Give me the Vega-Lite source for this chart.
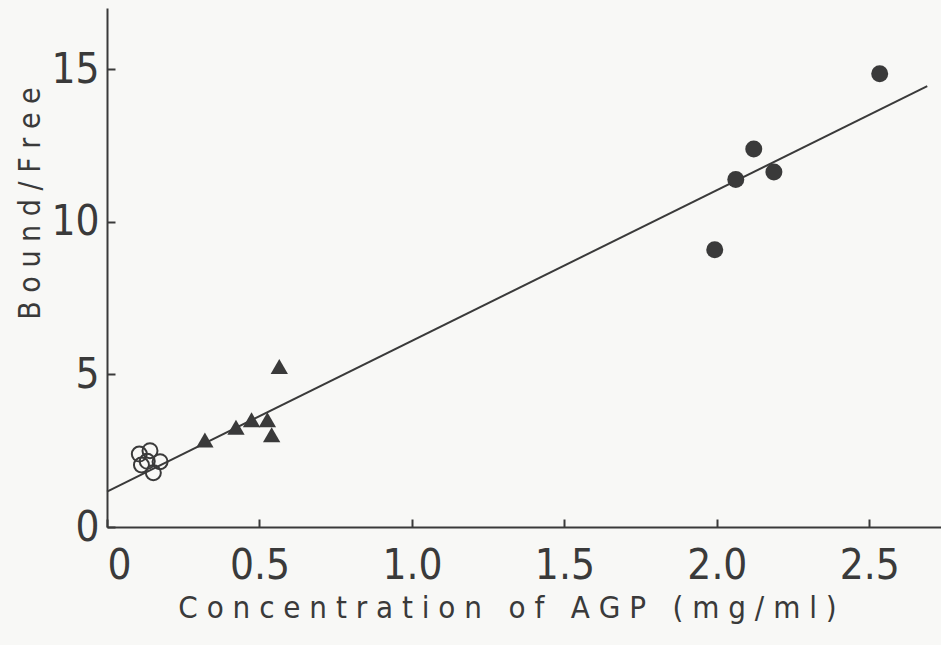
{
  "$schema": "https://vega.github.io/schema/vega-lite/v6.json",
  "autosize": "none",
  "padding": {"left": 107, "top": 8, "right": 0, "bottom": 118},
  "width": 834,
  "height": 519,
  "background": "#f8f8f6",
  "config": {
    "view": {"stroke": null},
    "font": "DejaVu Sans Condensed, sans-serif",
    "axis": {
      "domainColor": "#3a3a3a",
      "domainWidth": 2,
      "tickColor": "#3a3a3a",
      "tickWidth": 2,
      "tickSize": -8,
      "grid": false,
      "labelFont": "DejaVu Sans Condensed, sans-serif",
      "labelFontSize": 42,
      "labelColor": "#3a3a3a",
      "titleFont": "DejaVu Sans Condensed, sans-serif",
      "titleFontSize": 31,
      "titleFontWeight": "normal",
      "titleColor": "#3a3a3a"
    }
  },
  "datasets": {
    "pts": [
      {"agp": 0.106, "bf": 2.39, "group": "open"},
      {"agp": 0.141, "bf": 2.50, "group": "open"},
      {"agp": 0.174, "bf": 2.14, "group": "open"},
      {"agp": 0.113, "bf": 2.03, "group": "open"},
      {"agp": 0.152, "bf": 1.78, "group": "open"},
      {"agp": 0.132, "bf": 2.15, "group": "open"},
      {"agp": 0.321, "bf": 2.85, "group": "triangle"},
      {"agp": 0.423, "bf": 3.27, "group": "triangle"},
      {"agp": 0.474, "bf": 3.51, "group": "triangle"},
      {"agp": 0.526, "bf": 3.51, "group": "triangle"},
      {"agp": 0.540, "bf": 3.02, "group": "triangle"},
      {"agp": 0.565, "bf": 5.26, "group": "triangle"},
      {"agp": 1.993, "bf": 9.08, "group": "filled"},
      {"agp": 2.062, "bf": 11.38, "group": "filled"},
      {"agp": 2.121, "bf": 12.38, "group": "filled"},
      {"agp": 2.187, "bf": 11.63, "group": "filled"},
      {"agp": 2.534, "bf": 14.85, "group": "filled"}
    ],
    "fit": [
      {"agp": 0, "bf": 1.16},
      {"agp": 2.69, "bf": 14.44}
    ]
  },
  "encoding": {
    "x": {
      "field": "agp",
      "type": "quantitative",
      "scale": {"domain": [0, 2.735], "nice": false, "zero": false},
      "axis": {
        "values": [0, 0.5, 1, 1.5, 2, 2.5],
        "labelExpr": "datum.value == 0 ? '0' : format(datum.value, '.1f')",
        "labelPadding": 26,
        "title": "C o n c e n t r a t i o n \u00a0\u00a0o f \u00a0\u00a0A G P \u00a0\u00a0( m g / m l )",
        "titleX": 400,
        "titleY": 90,
        "titleAnchor": "middle",
        "titleBaseline": "alphabetic"
      }
    },
    "y": {
      "field": "bf",
      "type": "quantitative",
      "scale": {"domain": [0, 17], "nice": false},
      "axis": {
        "values": [0, 5, 10, 15],
        "labelPadding": 16,
        "title": "B o u n d / F r e e",
        "titleFontSize": 30,
        "titleX": -77,
        "titleY": 195,
        "titleAngle": -90,
        "titleAlign": "center",
        "titleBaseline": "middle"
      }
    }
  },
  "layer": [
    {
      "data": {"name": "fit"},
      "mark": {"type": "line", "color": "#3a3a3a", "strokeWidth": 2}
    },
    {
      "data": {"name": "pts"},
      "transform": [{"filter": "datum.group == 'open'"}],
      "mark": {"type": "point", "shape": "circle", "filled": false, "stroke": "#3a3a3a", "strokeWidth": 2, "size": 225, "opacity": 1}
    },
    {
      "data": {"name": "pts"},
      "transform": [{"filter": "datum.group == 'triangle'"}],
      "mark": {"type": "point", "shape": "triangle-up", "filled": true, "fill": "#3a3a3a", "size": 300, "opacity": 1}
    },
    {
      "data": {"name": "pts"},
      "transform": [{"filter": "datum.group == 'filled'"}],
      "mark": {"type": "point", "shape": "circle", "filled": true, "fill": "#3a3a3a", "size": 289, "opacity": 1}
    }
  ]
}
